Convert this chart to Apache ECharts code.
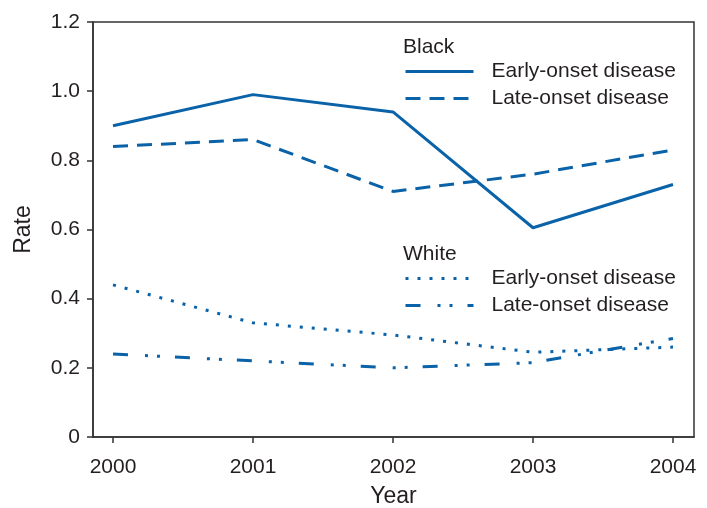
<!DOCTYPE html>
<html><head><meta charset="utf-8">
<script src="https://cdn.jsdelivr.net/npm/echarts@6/dist/echarts.min.js"></script>
<style>html,body{margin:0;padding:0;background:#fff}#c{width:707px;height:508px}</style>
</head><body><div id="c"></div>
<script>
const years = [2000, 2001, 2002, 2003, 2004];
const blackEarly = [0.90, 0.99, 0.94, 0.605, 0.73];
const blackLate = [0.84, 0.86, 0.71, 0.76, 0.83];
const whiteEarly = [0.44, 0.33, 0.295, 0.245, 0.26];
const whiteLate = [0.24, 0.22, 0.20, 0.215, 0.285];
const seriesNames = ['Early-onset disease', 'Late-onset disease', 'Early-onset disease ', 'Late-onset disease '];
const groupTitles = ['Black', 'White'];

const blue = '#0a62a8';
const ink = '#231f20';
const font = 'Liberation Sans, Arial, Helvetica, sans-serif';
const pair = (xs, ys) => xs.map((x, i) => [x, ys[i]]);

const mk = (name, data, dash) => ({
  name, type: 'line', data, symbol: 'none', animation: false,
  lineStyle: { color: blue, width: 3, type: dash, cap: 'butt' },
  itemStyle: { color: blue }
});

const legendBase = {
  orient: 'vertical', itemWidth: 68, itemHeight: 14, itemGap: 6, padding: 0,
  selectedMode: false,
  itemStyle: { opacity: 0, color: 'transparent', borderColor: 'transparent', borderWidth: 0 },
  lineStyle: { width: 3, color: blue, opacity: 1 },
  textStyle: { fontFamily: font, fontSize: 21, color: ink, padding: [0, 0, 0, 13] }
};
const titleStyle = { fontFamily: font, fontSize: 21, fontWeight: 'normal', color: ink };

const chart = echarts.init(document.getElementById('c'));
chart.setOption({
  backgroundColor: '#fff',
  animation: false,
  grid: { left: 93, right: 13, top: 22, bottom: 71, outerBoundsMode: 'none', containLabel: false, show: true, borderColor: '#333', borderWidth: 1.5, backgroundColor: 'transparent' },
  title: [
    { text: groupTitles[0], left: 403, top: 37, padding: 0, textStyle: titleStyle },
    { text: groupTitles[1], left: 403, top: 244, padding: 0, textStyle: titleStyle }
  ],
  legend: [
    Object.assign({}, legendBase, { left: 404, top: 61, data: [seriesNames[0], seriesNames[1]] }),
    Object.assign({}, legendBase, { left: 404, top: 268, data: [seriesNames[2], seriesNames[3]] })
  ],
  xAxis: {
    type: 'value', min: 1999.857, max: 2004.15,
    name: 'Year', nameLocation: 'middle', nameGap: 48,
    nameTextStyle: { fontFamily: font, fontSize: 23, color: ink },
    axisLine: { lineStyle: { color: '#333', width: 1.5 } },
    axisTick: { show: true, length: 6, inside: false, customValues: years, lineStyle: { color: '#333', width: 1.5 } },
    axisLabel: { customValues: years, fontFamily: font, fontSize: 21, color: ink, margin: 20, formatter: v => String(Math.round(v)) },
    splitLine: { show: false }
  },
  yAxis: {
    type: 'value', min: 0, max: 1.2, interval: 0.2,
    name: 'Rate', nameLocation: 'middle', nameGap: 58,
    nameTextStyle: { fontFamily: font, fontSize: 23, color: ink },
    axisLine: { show: true, lineStyle: { color: '#333', width: 1.5 } },
    axisTick: { show: true, length: 6, lineStyle: { color: '#333', width: 1.5 } },
    axisLabel: { fontFamily: font, fontSize: 21, color: ink, margin: 13, formatter: v => v === 0 ? '0' : v.toFixed(1) },
    splitLine: { show: false }
  },
  series: [
    mk(seriesNames[0], pair(years, blackEarly), 'solid'),
    mk(seriesNames[1], pair(years, blackLate), [15, 9]),
    mk(seriesNames[2], pair(years, whiteEarly), [3, 9]),
    mk(seriesNames[3], pair(years, whiteLate), [15, 17, 3, 9, 3, 15])
  ]
});
</script></body></html>
